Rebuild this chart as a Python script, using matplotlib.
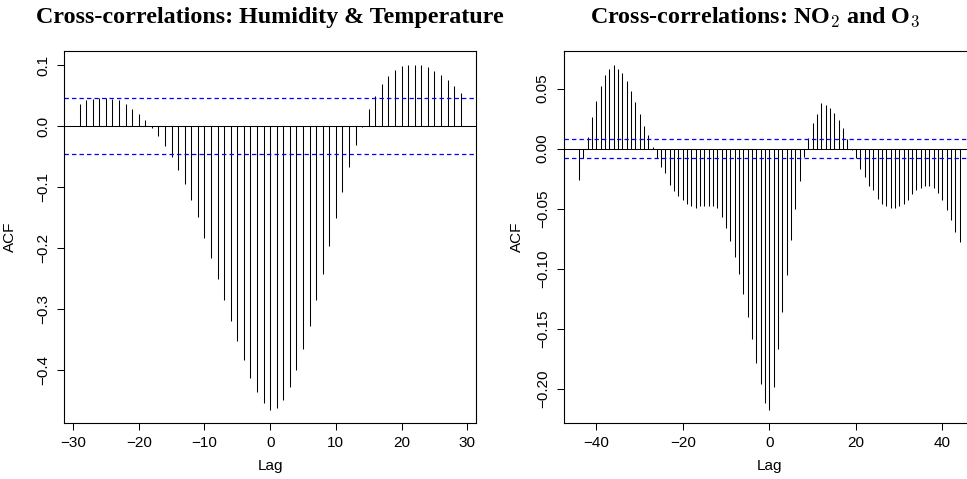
import matplotlib
matplotlib.use("Agg")
import matplotlib.pyplot as plt
import numpy as np

plt.rcParams["font.family"] = ["Liberation Sans", "DejaVu Sans"]
plt.rcParams["mathtext.fontset"] = "cm"

# humidity vs temperature cross-correlations, lags -29..29
ht_lags = np.arange(-29, 30)
ht_acf = [
    0.037, 0.042, 0.045, 0.046, 0.046, 0.045, 0.042, 0.036, 0.028, 0.020,
    0.010, -0.003, -0.016, -0.032, -0.051, -0.072, -0.095, -0.121, -0.150, -0.183,
    -0.216, -0.251, -0.285, -0.320, -0.353, -0.384, -0.413, -0.437, -0.454,
    -0.465,
    -0.462, -0.449, -0.428, -0.400, -0.366, -0.328, -0.286, -0.242, -0.196, -0.151,
    -0.108, -0.067, -0.031, -0.001, 0.028, 0.050, 0.069, 0.082, 0.092, 0.098,
    0.101, 0.101, 0.100, 0.097, 0.091, 0.084, 0.075, 0.066, 0.054,
]
ht_ci = 0.0454

# NO2 vs O3 cross-correlations, lags -44..44
no_lags = np.arange(-44, 45)
no_acf = [
    -0.026, -0.0075, 0.010, 0.026, 0.040, 0.052, 0.061, 0.066, 0.070, 0.066,
    0.063, 0.056, 0.048, 0.039, 0.029, 0.019, 0.011, 0.001, -0.008, -0.015,
    -0.020, -0.030, -0.035, -0.039, -0.043, -0.046, -0.048, -0.049, -0.048, -0.0475,
    -0.0475, -0.048, -0.049, -0.057, -0.066, -0.077, -0.090, -0.104, -0.121, -0.140,
    -0.158, -0.178, -0.196, -0.212,
    -0.217,
    -0.198, -0.167, -0.136, -0.105, -0.076, -0.050, -0.027, -0.007, 0.009, 0.021,
    0.029, 0.038, 0.036, 0.034, 0.030, 0.024, 0.017, 0.008, -0.001, -0.008,
    -0.017, -0.024, -0.031, -0.034, -0.042, -0.046, -0.048, -0.049, -0.049, -0.048,
    -0.046, -0.043, -0.038, -0.034, -0.033, -0.031, -0.031, -0.033, -0.037, -0.043,
    -0.051, -0.059, -0.069, -0.078,
]
no_ci = 0.0078

W, H = 967, 479


def ccf_panel(ax, lags, acf, ci, xticks, yticks, yfmt, ylab_x):
    ax.vlines(lags, 0, acf, colors="black", linewidth=0.75)
    ax.axhline(0, color="black", linewidth=0.75)
    for c in (ci, -ci):
        ax.axhline(c, color="blue", linewidth=0.9, linestyle=(0, (3.5, 2.5)))
    ax.margins(x=0.04, y=0.04)
    ax.set_xticks(xticks)
    ax.set_yticks(yticks)
    ax.set_yticklabels([yfmt.format(v).replace("-", "\u2212") for v in yticks],
                       rotation=90, va="center")
    ax.tick_params(direction="out", length=5, width=0.75, labelsize=11)
    ax.tick_params(axis="x", pad=4)
    ax.tick_params(axis="y", pad=5)
    for s in ax.spines.values():
        s.set_linewidth(0.8)
    ax.set_xlabel("Lag", fontsize=11)
    ax.set_ylabel("ACF", fontsize=11)
    ax.xaxis.set_label_coords(0.5, -(459 - 423.3) / 372.6)
    ax.yaxis.set_label_coords(ylab_x, 0.5)


fig = plt.figure(figsize=(W / 100, H / 100), dpi=100)
ax1 = fig.add_axes([64.3 / W, 1 - 423.3 / H, 411.7 / W, 372.6 / H])
ax2 = fig.add_axes([563.7 / W, 1 - 423.3 / H, 411.3 / W, 372.6 / H])

ccf_panel(ax1, ht_lags, ht_acf, ht_ci, [-30, -20, -10, 0, 10, 20, 30],
          [-0.4, -0.3, -0.2, -0.1, 0.0, 0.1], "{:.1f}", -(64.3 - 17) / 411.7)
ccf_panel(ax2, no_lags, no_acf, no_ci, [-40, -20, 0, 20, 40],
          [-0.20, -0.15, -0.10, -0.05, 0.00, 0.05], "{:.2f}", -(563.7 - 524) / 411.3)

title_kw = dict(ha="center", va="baseline", fontsize=17.3, fontweight="bold",
                family=["Liberation Serif", "DejaVu Serif"])
fig.text(270 / W, 1 - 23 / H, "Cross-correlations: Humidity & Temperature", **title_kw)
fig.text(755 / W, 1 - 23 / H, r"Cross-correlations: NO$_2$ and O$_3$", **title_kw)

fig.savefig("out.png", dpi=100)
